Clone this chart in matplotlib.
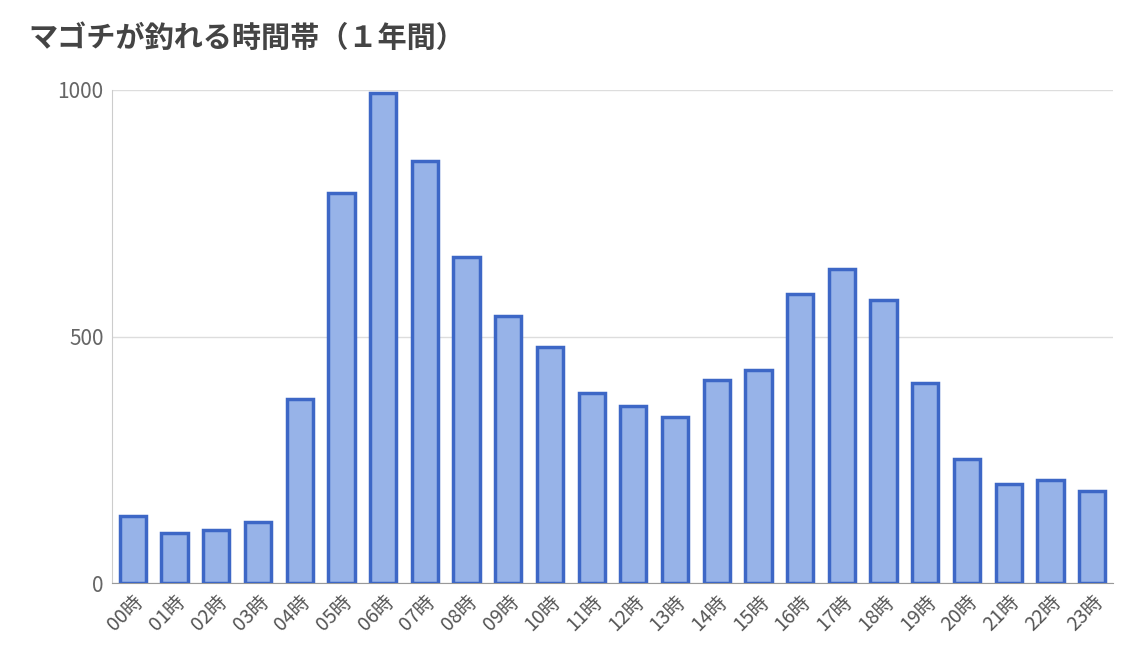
import matplotlib
matplotlib.use("Agg")
import matplotlib.pyplot as plt

plt.rcParams['font.family'] = ['Noto Sans CJK JP', 'DejaVu Sans']

hours = [f"{h:02d}時" for h in range(24)]
counts = [136, 101, 107, 124, 373, 791, 994, 856, 661, 542, 479, 385,
          359, 337, 412, 432, 586, 637, 574, 406, 252, 201, 209, 187]
yticks = [0, 500, 1000]

fig = plt.figure(figsize=(11.27, 6.58), dpi=100)
ax = fig.add_axes([112/1127, 1-583/658, 1001/1127, 493/658])
ax.bar(range(24), counts, width=0.63, color='#97b3e8', edgecolor='#3d67c6', linewidth=2.5, zorder=3)
ax.set_xlim(-0.5, 23.5)
ax.set_ylim(0, 1000)
ax.set_yticks(yticks)
ax.set_yticklabels([str(v) for v in yticks], fontsize=15, color='#666666')
ax.set_xticks(range(24))
ax.set_xticklabels(hours, rotation=45, ha='right', rotation_mode='anchor', fontsize=14, color='#555555')
ax.tick_params(length=0, pad=6)
ax.grid(axis='y', color='#dddddd', linewidth=1, zorder=0)
for s in ['top', 'right']:
    ax.spines[s].set_visible(False)
ax.spines['left'].set_color('#cccccc')
ax.spines['bottom'].set_color('#999999')
fig.text(28/1127, 1-38/658, "マゴチが釣れる時間帯（１年間）", fontsize=21, fontweight='bold',
         color='#444444', va='center', ha='left')
fig.savefig("out.png", dpi=100)
